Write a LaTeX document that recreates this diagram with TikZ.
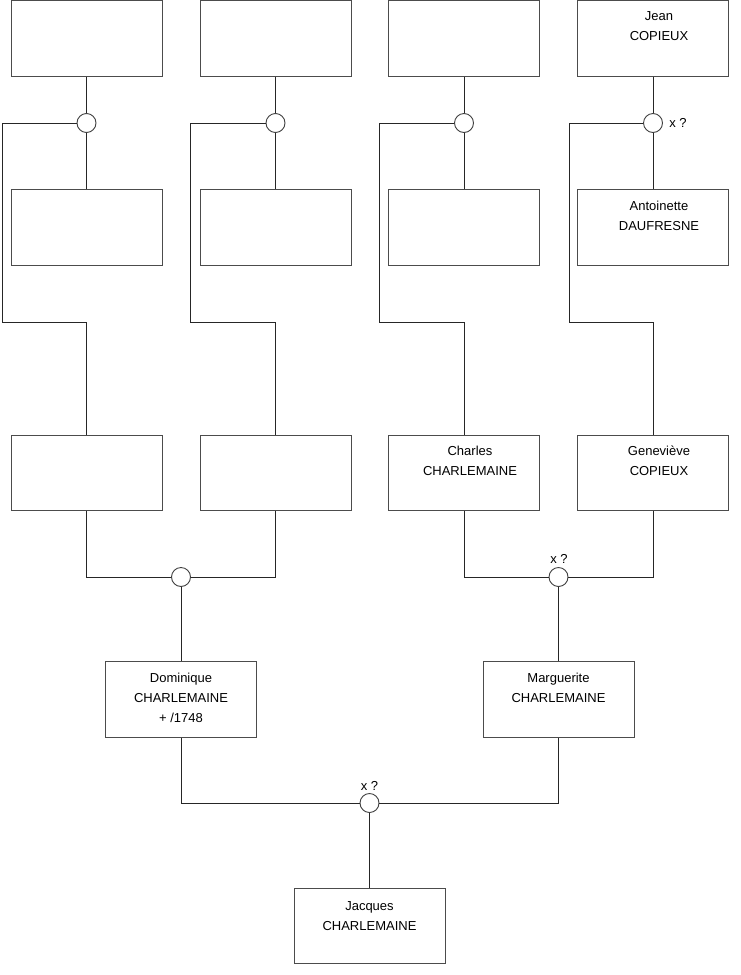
\documentclass[tikz,border=0pt]{standalone}
\usepackage{fontspec}
\setmainfont{Liberation Sans}
\begin{document}
\begin{tikzpicture}[x=1pt,y=-1pt,
  pbox/.style={draw=black!70, line width=1pt, minimum width=151pt, minimum height=75.5pt, inner sep=0pt, fill=white},
  ring/.style={circle, draw=black!75, line width=0.9pt, minimum size=19pt, inner sep=0pt, fill=white},
  ptext/.style={font=\fontsize{13}{20}\selectfont, align=center, anchor=north, inner sep=0pt},
  conn/.style={draw=black!85, line width=1pt},
  xq/.style={font=\fontsize{13}{15}\selectfont, inner sep=0pt}]
\useasboundingbox (0,0) rectangle (740,975);
% coordinates for connector bends
\coordinate (k1a) at (2,123);   \coordinate (k1b) at (2,322);
\coordinate (k2a) at (190,123); \coordinate (k2b) at (190,322);
\coordinate (k3a) at (379,123); \coordinate (k3b) at (379,322);
\coordinate (k4a) at (569,123); \coordinate (k4b) at (569,322);
% top row
\node[pbox] (t1) at (86.5,38.5) {};
\node[pbox] (t2) at (275.5,38.5) {};
\node[pbox] (t3) at (464,38.5) {};
\node[pbox] (t4) at (653,38.5) {};
% circles
\node[ring] (c1) at (86.5,123) {};
\node[ring] (c2) at (275.5,123) {};
\node[ring] (c3) at (464,123) {};
\node[ring] (c4) at (653,123) {};
% middle row
\node[pbox] (m1) at (86.5,227.5) {};
\node[pbox] (m2) at (275.5,227.5) {};
\node[pbox] (m3) at (464,227.5) {};
\node[pbox] (m4) at (653,227.5) {};
% third row
\node[pbox] (b1) at (86.5,473) {};
\node[pbox] (b2) at (275.5,473) {};
\node[pbox] (b3) at (464,473) {};
\node[pbox] (b4) at (653,473) {};
% lower circles
\node[ring] (cl) at (181,577) {};
\node[ring] (cr) at (558.5,577) {};
% parents
\node[pbox] (d) at (181,699.5) {};
\node[pbox] (mg) at (558.5,699.5) {};
\node[ring] (cb) at (369.5,803) {};
\node[pbox] (j) at (369.5,926) {};
% connectors
\draw[conn] (t1.south) -- (c1.north);
\draw[conn] (t2.south) -- (c2.north);
\draw[conn] (t3.south) -- (c3.north);
\draw[conn] (t4.south) -- (c4.north);
\draw[conn] (c1.south) -- (m1.north);
\draw[conn] (c2.south) -- (m2.north);
\draw[conn] (c3.south) -- (m3.north);
\draw[conn] (c4.south) -- (m4.north);
\draw[conn] (c1.west) -- (k1a) -- (k1b) -| (b1.north);
\draw[conn] (c2.west) -- (k2a) -- (k2b) -| (b2.north);
\draw[conn] (c3.west) -- (k3a) -- (k3b) -| (b3.north);
\draw[conn] (c4.west) -- (k4a) -- (k4b) -| (b4.north);
\draw[conn] (b1.south) |- (cl.west);
\draw[conn] (b2.south) |- (cl.east);
\draw[conn] (b3.south) |- (cr.west);
\draw[conn] (b4.south) |- (cr.east);
\draw[conn] (cl.south) -- (d.north);
\draw[conn] (cr.south) -- (mg.north);
\draw[conn] (d.south) |- (cb.west);
\draw[conn] (mg.south) |- (cb.east);
\draw[conn] (cb.south) -- (j.north);
% texts
\node[ptext] (t4txt) at (659,11.5) {Jean\\COPIEUX};
\node[ptext] (m4txt) at (659,201) {Antoinette\\DAUFRESNE};
\node[ptext] (b3txt) at (470,446) {Charles\\CHARLEMAINE};
\node[ptext] (b4txt) at (659,446) {Geneviève\\COPIEUX};
\node[ptext] (dtxt) at (181,673) {Dominique\\CHARLEMAINE\\+ /1748};
\node[ptext] (mgtxt) at (558.5,673) {Marguerite\\CHARLEMAINE};
\node[ptext] (jtxt) at (369.5,901) {Jacques\\CHARLEMAINE};
\node[xq] (xq1) at (678,123) {x ?};
\node[xq] (xq2) at (559,559) {x ?};
\node[xq] (xq3) at (369.5,786) {x ?};
\end{tikzpicture}
\end{document}
